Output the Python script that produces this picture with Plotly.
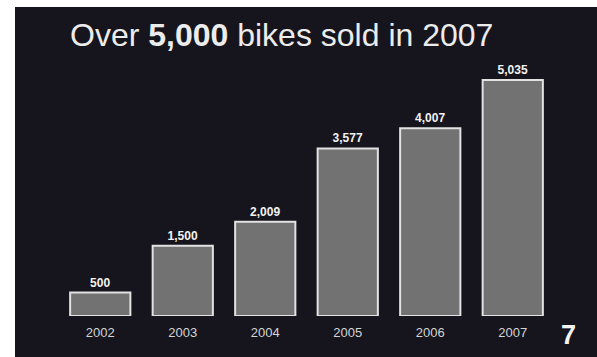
import plotly.graph_objects as go

# Annual bike sales
years = ["2002", "2003", "2004", "2005", "2006", "2007"]
bikes_sold = [500, 1500, 2009, 3577, 4007, 5035]
value_labels = ["500", "1,500", "2,009", "3,577", "4,007", "5,035"]

title_text = "Over <b>5,000</b> bikes sold in 2007"
page_number = "7"

W, H = 597, 357
ML, MR, MT, MB = 59, 43, 63, 41
plot_w = W - ML - MR
plot_h = H - MT - MB


def px_x(p):
    return (p - ML) / plot_w


def px_y(p):
    return (H - MB - p) / plot_h


fig = go.Figure(
    go.Bar(
        x=years,
        y=bikes_sold,
        width=0.73,
        marker=dict(color="#727272", line=dict(color="#e2e2e2", width=2)),
        text=value_labels,
        texttemplate="<b>%{text}</b>",
        textposition="outside",
        cliponaxis=False,
        textfont=dict(family="Liberation Sans, Arial, sans-serif", size=12, color="#f2f2f2"),
        hoverinfo="skip",
    )
)

# white paper strips along the left and top edges
fig.add_shape(type="rect", xref="paper", yref="paper",
              x0=px_x(0), x1=px_x(15), y0=px_y(H), y1=px_y(0),
              fillcolor="white", line_width=0, layer="above")
fig.add_shape(type="rect", xref="paper", yref="paper",
              x0=px_x(0), x1=px_x(W), y0=px_y(7), y1=px_y(0),
              fillcolor="white", line_width=0, layer="above")

fig.add_annotation(
    text=title_text, xref="paper", yref="paper",
    x=px_x(68), y=px_y(35), xanchor="left", yanchor="middle",
    showarrow=False,
    font=dict(family="Liberation Sans, Arial, sans-serif", size=32, color="#ececec"),
)
fig.add_annotation(
    text=f"<b>{page_number}</b>", xref="paper", yref="paper",
    x=px_x(568), y=px_y(335), xanchor="center", yanchor="middle",
    showarrow=False,
    font=dict(family="Liberation Sans, Arial, sans-serif", size=27, color="#f4f4f4"),
)

fig.update_layout(
    width=W, height=H,
    margin=dict(l=ML, r=MR, t=MT, b=MB),
    paper_bgcolor="#16151d",
    plot_bgcolor="rgba(0,0,0,0)",
    showlegend=False,
    bargap=0.27,
    xaxis=dict(
        showgrid=False, zeroline=False, showline=False, ticks="",
        ticklabelstandoff=7,
        tickfont=dict(family="Liberation Sans, Arial, sans-serif", size=13, color="#d4d4d4"),
    ),
    yaxis=dict(range=[0, 5400], visible=False, showgrid=False, zeroline=False),
)

fig.write_html("out.html")
